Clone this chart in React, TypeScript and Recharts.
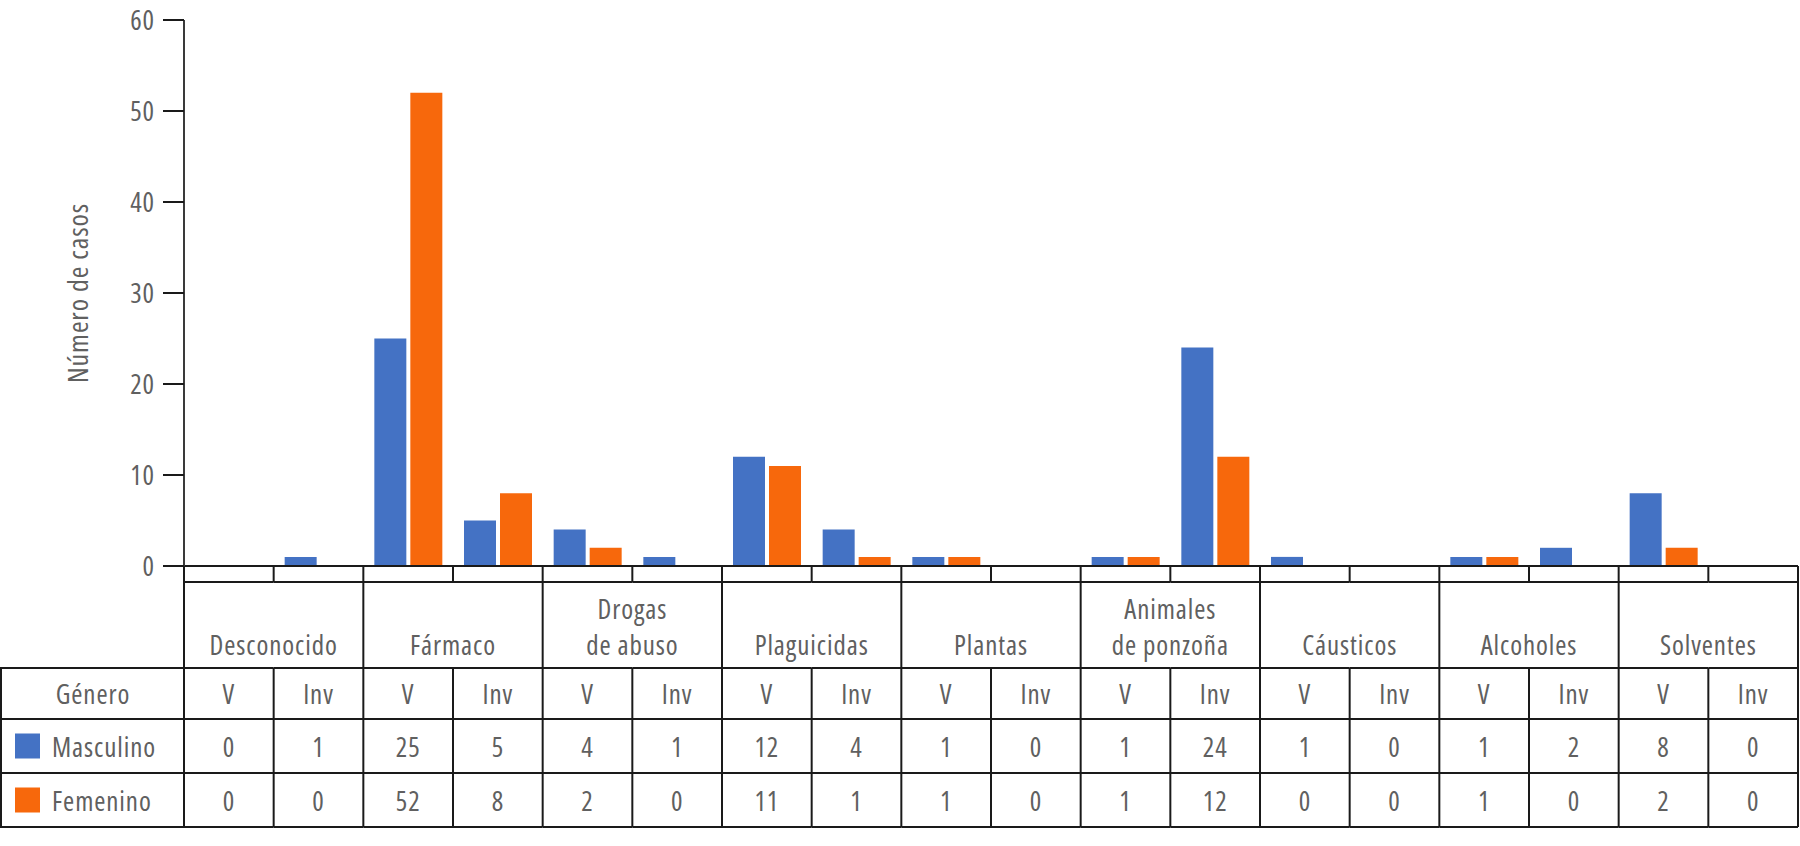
import React from 'react'
import { BarChart, Bar, XAxis, YAxis } from 'recharts'

const categories = [
  'Desconocido',
  'Fármaco',
  'Drogas|de abuso',
  'Plaguicidas',
  'Plantas',
  'Animales|de ponzoña',
  'Cáusticos',
  'Alcoholes',
  'Solventes',
]
const kinds = ['V', 'Inv']
const masculino = [0, 1, 25, 5, 4, 1, 12, 4, 1, 0, 1, 24, 1, 0, 1, 2, 8, 0]
const femenino = [0, 0, 52, 8, 2, 0, 11, 1, 1, 0, 1, 12, 0, 0, 1, 0, 2, 0]
const yTicks = [0, 10, 20, 30, 40, 50, 60]

const data = masculino.map((m, i) => ({
  key: `${i}`,
  cat: categories[Math.floor(i / 2)],
  kind: kinds[i % 2],
  masc: m,
  fem: femenino[i],
}))

const W = 1800
const H = 846
const LEFT = 184
const RIGHT = 2
const BW = (W - LEFT - RIGHT) / data.length
const FONT = "'Open Sans', 'Noto Sans', sans-serif"
const FSTYLE = { fontStretch: '75%', letterSpacing: '0.9px' }
const TXT = '#606060'
const LINE = '#1a1a1a'
const BLUE = '#4472C4'
const ORANGE = '#F7680C'

// row offsets below the zero line
const R1 = 16
const R2 = 102
const R3 = 153
const R4 = 207
const R5 = 261

function TableTick(props: any) {
  const { x, y, index } = props
  const d = data[index]
  const l = x - BW / 2
  const r = x + BW / 2
  const ln = { stroke: LINE, strokeWidth: 2 }
  const txt = {
    fill: TXT,
    fontSize: 27,
    fontFamily: FONT,
    style: FSTYLE,
    textAnchor: 'middle' as const,
    dominantBaseline: 'central' as const,
  }
  const out: React.ReactNode[] = []
  out.push(<line key="v1" x1={r} x2={r} y1={y} y2={y + R1} {...ln} />)
  out.push(<line key="h1" x1={l} x2={r} y1={y + R1} y2={y + R1} {...ln} />)
  out.push(<line key="v3" x1={r} x2={r} y1={y + R2} y2={y + R5} {...ln} />)
  for (const [k, ry] of [R2, R3, R4, R5].entries()) {
    out.push(<line key={'h' + k + 2} x1={l} x2={r} y1={y + ry} y2={y + ry} {...ln} />)
  }
  if (index % 2 === 0) {
    const cx = r
    out.push(<line key="v2" x1={r + BW} x2={r + BW} y1={y + R1} y2={y + R2} {...ln} />)
    const lines = d.cat.split('|')
    lines.forEach((t, j) => {
      const ty = y + R2 - 24 - (lines.length - 1 - j) * 36
      out.push(
        <text key={'c' + j} x={cx} y={ty} {...txt}>
          {t}
        </text>
      )
    })
  }
  out.push(
    <text key="k" x={x} y={y + (R2 + R3) / 2} {...txt}>
      {d.kind}
    </text>
  )
  out.push(
    <text key="m" x={x} y={y + (R3 + R4) / 2} {...txt}>
      {d.masc}
    </text>
  )
  out.push(
    <text key="f" x={x} y={y + (R4 + R5) / 2} {...txt}>
      {d.fem}
    </text>
  )
  if (index === 0) {
    out.push(<line key="lv" x1={l} x2={l} y1={y} y2={y + R5} {...ln} />)
    out.push(<line key="lv0" x1={1} x2={1} y1={y + R2} y2={y + R5} {...ln} />)
    for (const [k, ry] of [R2, R3, R4, R5].entries()) {
      out.push(<line key={'lh' + k} x1={0} x2={l} y1={y + ry} y2={y + ry} {...ln} />)
    }
    out.push(
      <text key="g" x={93} y={y + (R2 + R3) / 2} {...txt}>
        Género
      </text>
    )
    const legend = [
      ['Masculino', BLUE, (R3 + R4) / 2],
      ['Femenino', ORANGE, (R4 + R5) / 2],
    ] as const
    legend.forEach(([name, color, cy]) => {
      out.push(<rect key={'s' + name} x={15} y={y + cy - 12.5} width={25} height={25} fill={color} />)
      out.push(
        <text key={'t' + name} x={52} y={y + cy} {...txt} textAnchor="start">
          {name}
        </text>
      )
    })
  }
  return <g>{out}</g>
}

function YLabel(props: any) {
  const vb = props.viewBox || { y: 20, height: 546 }
  const cy = vb.y + vb.height / 2
  return (
    <text
      x={77}
      y={cy}
      transform={`rotate(-90 77 ${cy})`}
      textAnchor="middle"
      dominantBaseline="central"
      fill={TXT}
      fontSize={28}
      fontFamily={FONT}
      style={FSTYLE}
    >
      Número de casos
    </text>
  )
}

export default function App() {
  return (
    <div style={{ width: W, height: H, background: '#fff' }}>
      <style>{'body{margin:0}'}</style>
      <BarChart width={W} height={H} data={data} margin={{ top: 20, right: RIGHT, left: 0, bottom: 19 }} barGap={4}>
        <XAxis
          dataKey="key"
          interval={0}
          height={R5}
          tickLine={false}
          tickSize={0}
          tickMargin={0}
          axisLine={{ stroke: LINE, strokeWidth: 2 }}
          tick={<TableTick />}
        />
        <YAxis
          width={LEFT}
          domain={[0, 60]}
          ticks={yTicks}
          tickSize={21}
          tickMargin={8}
          axisLine={{ stroke: '#3a3a3a', strokeWidth: 2 }}
          tickLine={{ stroke: LINE, strokeWidth: 2 }}
          tick={{ fill: TXT, fontSize: 27, fontFamily: FONT, style: FSTYLE }}
          label={<YLabel />}
        />
        <Bar dataKey="masc" fill={BLUE} barSize={32} isAnimationActive={false} />
        <Bar dataKey="fem" fill={ORANGE} barSize={32} isAnimationActive={false} />
      </BarChart>
    </div>
  )
}
